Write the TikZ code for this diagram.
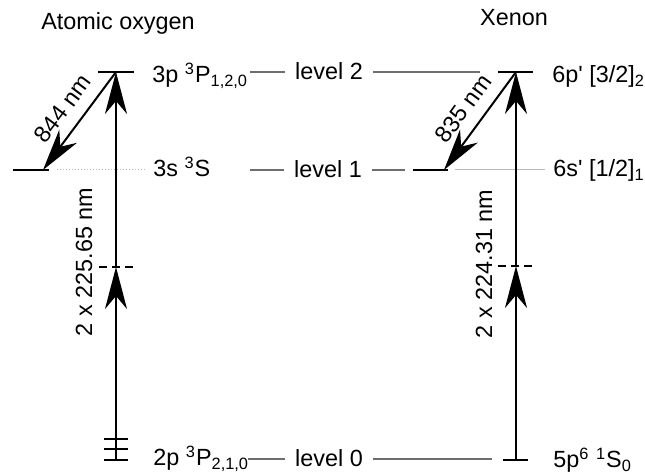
\documentclass[tikz,border=0pt]{standalone}
\usepackage{fontspec}
\newfontfamily\lsans{Liberation Sans}
\usetikzlibrary{arrows.meta,calc}
\definecolor{ink}{RGB}{0,0,0}
\definecolor{guide}{RGB}{110,110,110}
\definecolor{faint}{RGB}{185,185,185}

\begin{document}
\begin{tikzpicture}[
  x=0.5pt, y=-0.5pt,
  font=\lsans\fontsize{11.7}{14}\selectfont,
  >={Stealth[length=21pt, width=11pt, inset=6.5pt]},
  lvl/.style={draw=ink, line width=1pt},
  virt/.style={draw=ink, line width=0.8pt, dash pattern=on 4pt off 2.5pt},
  guideline/.style={draw=guide, line width=0.6pt},
  extline/.style={draw=faint, line width=0.5pt},
  photon/.style={->, draw=ink, line width=1pt},
  term/.style={anchor=base west, inner sep=0pt},
  lvlname/.style={inner xsep=5pt, inner ysep=0pt, text height=8pt, text depth=0pt},
  ttl/.style={anchor=base, inner sep=0pt},
]
\useasboundingbox (0,0) rectangle (645,474);

% ---- titles ----
\node[ttl] (tO) at (118,29.5) {Atomic oxygen};
\node[ttl] (tX) at (514,26) {Xenon};

% ---- key points of the two schemes ----
\coordinate (oT) at (116,72);
\coordinate (oM) at (43,170);
\coordinate (oV) at (116,267);
\coordinate (oG) at (116,460);
\coordinate (xT) at (516,72);
\coordinate (xM) at (444,170);
\coordinate (xV) at (516,266);
\coordinate (xG) at (516,460);

% ---- oxygen levels ----
\draw[lvl] (98,72) -- (134,72);
\draw[lvl] (13,170) -- (49,170);
\draw[extline, densely dotted] (57,170) -- (145,170);
\draw[virt] (99,267) -- (134,267);
\foreach \y in {439,449.5,460}
  \draw[lvl] (104,\y) -- (128,\y);

% ---- xenon levels ----
\draw[lvl] (498,72) -- (533,72);
\draw[lvl] (413,170) -- (448,170);
\draw[extline] (455,170) -- (545,170);
\draw[virt] (498,266) -- (534,266);
\draw[lvl] (503,460) -- (528,460);

% ---- term labels ----
\node[term] (o2) at (152,83) {3p \textsuperscript{3}P\textsubscript{1,2,0}};
\node[term] (o1) at (153,177) {3s \textsuperscript{3}S};
\node[term] (o0) at (153,466) {2p \textsuperscript{3}P\textsubscript{2,1,0}};
\node[term] (x2) at (552,83) {6p' [3/2]\textsubscript{2}};
\node[term] (x1) at (553,177) {6s' [1/2]\textsubscript{1}};
\node[term] (x0) at (553,468) {5p\textsuperscript{6} \textsuperscript{1}S\textsubscript{0}};

% ---- shared level names ----
\node[lvlname] (lv2) at (329,72) {level 2};
\node[lvlname] (lv1) at (328,170) {level 1};
\node[lvlname] (lv0) at (329,459) {level 0};

\draw[guideline] (lv2.west) -- ($(lv2.west)+(-35,0)$);
\draw[guideline] (lv1.west) -- ($(lv1.west)+(-34,0)$);
\draw[guideline] (lv0.west) -- ($(lv0.west)+(-37,0)$);
\draw[guideline] (lv2.east) -- ($(lv2.east)+(107,0)$);
\draw[guideline] (lv1.east) -- ($(lv1.east)+(33,0)$);
\draw[guideline] (lv0.east) -- ($(lv0.east)+(119,0)$);

% ============ transitions ============
% two-photon excitation
\draw[photon] (oG) -- (oV);
\draw[photon] (oV) -- (oT);
\draw[photon] (xG) -- (xV);
\draw[photon] (xV) -- (xT);
\node[rotate=90] (oW) at (84,262) {2 x 225.65 nm};
\node[rotate=90] (xW) at (484,264) {2 x 224.31 nm};

% fluorescence
\draw[photon] (oT) -- node[sloped, above=2.5pt] {844 nm} (oM);
\draw[photon] (xT) -- node[sloped, above=2.5pt] {835 nm} (xM);

\end{tikzpicture}
\end{document}
